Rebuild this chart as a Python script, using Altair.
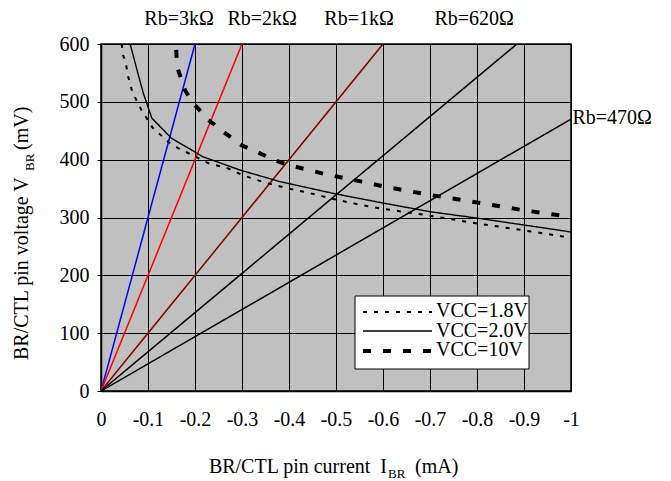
import altair as alt
import pandas as pd

FONT = "Liberation Serif"
OHM = "\u03a9"

# Rb load lines (end points, line starts at origin)
rb_names = ["Rb=3k" + OHM, "Rb=2k" + OHM, "Rb=1k" + OHM, "Rb=620" + OHM, "Rb=470" + OHM]
rb_end_i = [-0.2, -0.3, -0.6, -0.885, -1.0]
rb_end_v = [600, 600, 600, 600, 470]
rb_colors = ["#0000FF", "#FF0000", "#800000", "#000000", "#000000"]

# label anchors (data coordinates)
rb_lab_i = [-0.166, -0.343, -0.549, -0.794, -1.003]
rb_lab_v = [633, 633, 633, 633, 462]
rb_lab_align = ["center", "center", "center", "center", "left"]

# VCC curves
vcc_names = ["VCC=1.8V", "VCC=2.0V", "VCC=10V"]

v18_i = [-0.044, -0.047, -0.053, -0.057, -0.067, -0.086, -0.11, -0.143, -0.164,
         -0.189, -0.228, -0.27, -0.302, -0.35, -0.40, -0.445, -0.494, -0.551,
         -0.60, -0.693, -0.79, -0.898, -1.0]
v18_v = [600, 581, 567, 546, 516, 486, 455, 431, 420, 410, 394, 385, 373, 360,
         350, 342, 332, 322, 315, 304, 291, 278, 265]

v20_i = [-0.062, -0.075, -0.09, -0.108, -0.15, -0.217, -0.296, -0.381, -0.498,
         -0.60, -0.70, -0.80, -0.90, -1.0]
v20_v = [600, 560, 515, 472, 437, 405, 382, 362, 341, 325, 310, 299, 287, 275]

v10_i = [-0.160, -0.162, -0.179, -0.193, -0.206, -0.228, -0.264, -0.299, -0.338,
         -0.370, -0.398, -0.477, -0.555, -0.60, -0.693, -0.80, -0.895, -1.0]
v10_v = [590, 560, 520, 500, 489, 469, 446, 425, 411, 399, 391, 375, 362, 354,
         340, 326, 313, 301]

x_ticks = [0, -0.1, -0.2, -0.3, -0.4, -0.5, -0.6, -0.7, -0.8, -0.9, -1.0]
y_ticks = list(range(0, 601, 50))

# ---- tables ----
rb_rows = []
for n, xi, yv in zip(rb_names, rb_end_i, rb_end_v):
    rb_rows.append({"name": n, "i": 0.0, "v": 0.0, "k": 0})
    rb_rows.append({"name": n, "i": xi, "v": yv, "k": 1})
rb_df = pd.DataFrame(rb_rows)

vcc_rows = []
for n, ii, vv in zip(vcc_names, [v18_i, v20_i, v10_i], [v18_v, v20_v, v10_v]):
    for k, (a, b) in enumerate(zip(ii, vv)):
        vcc_rows.append({"series": n, "i": a, "v": b, "k": k})
vcc_df = pd.DataFrame(vcc_rows)

lab_df = pd.DataFrame({"name": rb_names, "i": rb_lab_i, "v": rb_lab_v, "al": rb_lab_align})

dash_map = {"VCC=1.8V": [4, 7], "VCC=2.0V": [1, 0], "VCC=10V": [8, 12]}
width_map = {"VCC=1.8V": 2, "VCC=2.0V": 1.4, "VCC=10V": 4}

xscale = alt.Scale(domain=[0, -1], nice=False, zero=False)
yscale = alt.Scale(domain=[0, 600], nice=False, zero=False)

xaxis = alt.Axis(values=x_ticks, title=None, ticks=False, labelPadding=18,
                 labelExpr="datum.value == 0 ? '0' : '-' + format(abs(datum.value), '.1~f')",
                 grid=True, gridColor="black", gridOpacity=1, gridWidth=1,
                 domainColor="black", domainWidth=1.5, labelFlush=False,
                 labelOverlap=False, labelFontSize=20, labelColor="black", labelFont=FONT)
yaxis = alt.Axis(values=y_ticks, title=None, tickSize=4, tickColor="black",
                 labelExpr="datum.value % 100 == 0 ? datum.label : ''",
                 grid=True, gridColor="black", gridOpacity=1, gridWidth=1,
                 domainColor="black", domainWidth=1.5, labelFlush=False,
                 labelOverlap=False, labelPadding=8, labelFontSize=20,
                 labelColor="black", labelFont=FONT)

rb_lines = alt.Chart(rb_df).mark_line(strokeWidth=1.5, clip=True).encode(
    x=alt.X("i:Q", scale=xscale, axis=xaxis),
    y=alt.Y("v:Q", scale=yscale, axis=yaxis),
    color=alt.Color("name:N", scale=alt.Scale(domain=rb_names, range=rb_colors), legend=None),
    order="k:Q",
)

curves = []
for n in vcc_names:
    curves.append(
        alt.Chart(vcc_df).transform_filter(alt.datum.series == n)
        .mark_line(color="black", strokeDash=dash_map[n], strokeWidth=width_map[n], clip=True)
        .encode(x=alt.X("i:Q", scale=xscale), y=alt.Y("v:Q", scale=yscale), order="k:Q")
    )

labels = []
for al in ["center", "left"]:
    labels.append(
        alt.Chart(lab_df).transform_filter(alt.datum.al == al)
        .mark_text(align=al, baseline="alphabetic", font=FONT, fontSize=20, color="black")
        .encode(x=alt.X("i:Q", scale=xscale), y=alt.Y("v:Q", scale=yscale), text="name:N")
    )

# legend box (pixel positions relative to plot area)
one = pd.DataFrame({"a": [0]})
leg_box = alt.Chart(one).mark_rect(fill="white", stroke="black", strokeWidth=1).encode(
    x=alt.value(254), x2=alt.value(428), y=alt.value(252), y2=alt.value(325))
leg_parts = [leg_box]
leg_y_line = [268, 287, 307]
leg_y_text = [273, 293, 312]
for n, yl, yt in zip(vcc_names, leg_y_line, leg_y_text):
    leg_parts.append(
        alt.Chart(one).mark_rule(color="black", strokeDash=dash_map[n], strokeWidth=width_map[n])
        .encode(x=alt.value(262), x2=alt.value(331), y=alt.value(yl)))
    leg_parts.append(
        alt.Chart(pd.DataFrame({"t": [n]})).mark_text(align="left", baseline="alphabetic",
                                                      font=FONT, fontSize=20, color="black")
        .encode(x=alt.value(335), y=alt.value(yt), text="t:N"))


def txt(s, x, y, size=20, align="left", angle=0):
    return alt.Chart(pd.DataFrame({"t": [s]})).mark_text(
        align=align, baseline="alphabetic", font=FONT, fontSize=size, color="black", angle=angle
    ).encode(x=alt.value(x), y=alt.value(y), text="t:N")


titles = [
    txt("BR/CTL pin current\u00a0\u00a0I", 286, 429, align="right"),
    txt("BR", 287, 434, size=13),
    txt("(mA)", 314, 429),
    txt("BR/CTL pin voltage V", -73, 316, angle=270),
    txt("BR", -67, 127, size=13, angle=270),
    txt("(mV)", -73, 106, angle=270),
]

chart = alt.layer(rb_lines, *curves, *leg_parts, *labels, *titles).properties(
    width=470, height=347,
    autosize=alt.AutoSizeParams(type="none"),
    padding={"left": 93, "top": 36, "right": 92, "bottom": 110},
).configure(font=FONT).configure_view(
    fill="#C0C0C0", stroke="black", strokeWidth=1.5
)

chart.save("out.html", embed_options={"renderer": "svg", "actions": False})
